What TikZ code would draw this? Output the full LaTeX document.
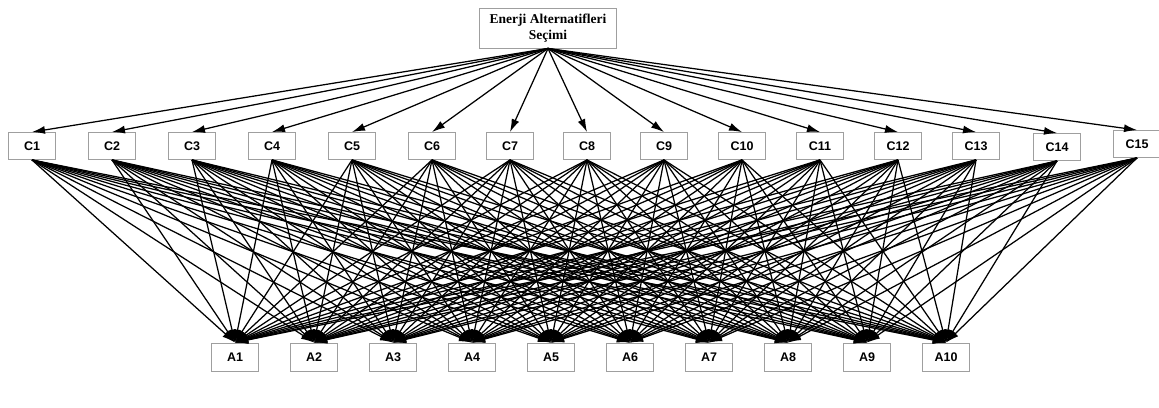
\documentclass[tikz,border=0pt]{standalone}
\usepackage{fontspec}
\setmainfont{Liberation Serif}
\newfontfamily\labelfont{Liberation Sans}
\usetikzlibrary{arrows.meta}
\begin{document}
\begin{tikzpicture}[x=1pt,y=-1pt,
 box/.style={draw=gray!75, line width=0.9pt, fill=white, minimum width=47pt, minimum height=27pt, inner sep=0pt, font=\labelfont\bfseries\fontsize{12.5}{14}\selectfont},
 topbox/.style={draw=gray!75, line width=0.9pt, fill=white, minimum width=137pt, minimum height=40pt, inner sep=0pt, align=center, font=\bfseries\fontsize{13.5}{15.5}\selectfont},
 link/.style={line width=1.25pt, -{Latex[length=13pt,width=8pt]}}
]
\useasboundingbox (0,0) rectangle (1159,407);
\node[topbox] (top) at (548,28) {Enerji Alternatifleri\\Seçimi};
\foreach \i/\x/\y in {1/32/146,2/112/146,3/192/146,4/272/146,5/352/146,6/432/146,7/510/146,8/587/146,9/664/146,10/742/146,11/820/146,12/898/146,13/976/146,14/1057/147,15/1137/144}
  \node[box] (C\i) at (\x,\y) {C\i};
\foreach \i in {1,...,10}
  \node[box, minimum height=28pt] (A\i) at ({235+79*(\i-1)},357) {A\i};
\foreach \i in {1,...,15}
  \draw[link] (top.south) -- (C\i.north);
\foreach \i in {1,...,15}
  \foreach \j in {1,...,10}
    \draw[link] (C\i.south) -- (A\j.north);
\end{tikzpicture}
\end{document}
